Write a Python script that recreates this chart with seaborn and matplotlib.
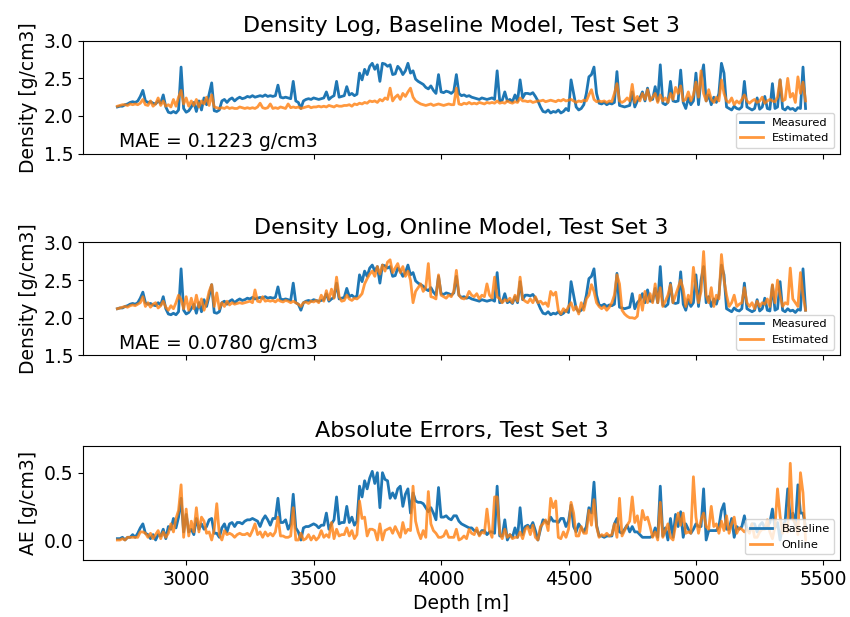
import numpy as np
import pandas as pd
import matplotlib
matplotlib.use("Agg")
import matplotlib.pyplot as plt
import seaborn as sns

# Depth sampling grid [m]
depth = np.arange(2730, 5431, 10)

# Measured density [g/cm3]
measured = [
    2.12, 2.13, 2.13, 2.15, 2.16, 2.18, 2.19, 2.18, 2.20, 2.26,
    2.34, 2.20, 2.18, 2.19, 2.17, 2.16, 2.20, 2.17, 2.28, 2.12,
    2.05, 2.04, 2.06, 2.04, 2.08, 2.65, 2.10, 2.05, 2.07, 2.12,
    2.18, 2.06, 2.20, 2.08, 2.24, 2.15, 2.29, 2.44, 2.07, 2.06,
    2.08, 2.20, 2.22, 2.18, 2.22, 2.24, 2.20, 2.23, 2.25, 2.23,
    2.24, 2.26, 2.25, 2.27, 2.25, 2.26, 2.27, 2.26, 2.28, 2.26,
    2.27, 2.26, 2.27, 2.41, 2.25, 2.24, 2.25, 2.24, 2.23, 2.46,
    2.20, 2.18, 2.10, 2.20, 2.22, 2.23, 2.22, 2.24, 2.23, 2.22,
    2.23, 2.24, 2.32, 2.22, 2.25, 2.27, 2.46, 2.25, 2.26, 2.27,
    2.39, 2.28, 2.30, 2.27, 2.29, 2.57, 2.48, 2.62, 2.55, 2.66,
    2.70, 2.62, 2.68, 2.46, 2.70, 2.69, 2.66, 2.68, 2.55, 2.56,
    2.66, 2.62, 2.55, 2.60, 2.70, 2.57, 2.60, 2.49, 2.46, 2.44,
    2.42, 2.38, 2.36, 2.40, 2.34, 2.30, 2.55, 2.32, 2.31, 2.33,
    2.32, 2.30, 2.33, 2.55, 2.30, 2.27, 2.28, 2.26, 2.27, 2.25,
    2.24, 2.23, 2.22, 2.24, 2.23, 2.22, 2.23, 2.24, 2.22, 2.60,
    2.20, 2.21, 2.32, 2.20, 2.22, 2.19, 2.28, 2.20, 2.48, 2.24,
    2.30, 2.30, 2.29, 2.31, 2.26, 2.20, 2.12, 2.06, 2.05, 2.08,
    2.04, 2.06, 2.05, 2.08, 2.04, 2.06, 2.10, 2.07, 2.48, 2.30,
    2.12, 2.08, 2.10, 2.15, 2.30, 2.52, 2.55, 2.65, 2.30, 2.17,
    2.16, 2.18, 2.15, 2.17, 2.16, 2.18, 2.59, 2.14, 2.13, 2.12,
    2.13, 2.14, 2.32, 2.12, 2.20, 2.24, 2.32, 2.20, 2.37, 2.22,
    2.22, 2.39, 2.20, 2.68, 2.17, 2.15, 2.18, 2.46, 2.20, 2.19,
    2.20, 2.61, 2.18, 2.10, 2.24, 2.15, 2.20, 2.57, 2.15, 2.50,
    2.68, 2.20, 2.28, 2.15, 2.25, 2.18, 2.30, 2.70, 2.57, 2.12,
    2.10, 2.08, 2.13, 2.10, 2.09, 2.12, 2.46, 2.12, 2.10, 2.08,
    2.10, 2.24, 2.09, 2.12, 2.26, 2.10, 2.09, 2.43, 2.10, 2.12,
    2.48, 2.10, 2.08, 2.12, 2.09, 2.10, 2.07, 2.11, 2.10, 2.65,
    2.10,
]

# Baseline model estimate [g/cm3]
baseline_est = [
    2.13, 2.14, 2.15, 2.15, 2.14, 2.16, 2.15, 2.16, 2.15, 2.17,
    2.22, 2.15, 2.14, 2.20, 2.13, 2.16, 2.24, 2.14, 2.20, 2.13,
    2.15, 2.12, 2.22, 2.13, 2.25, 2.34, 2.16, 2.24, 2.13, 2.20,
    2.14, 2.22, 2.12, 2.20, 2.16, 2.25, 2.14, 2.28, 2.12, 2.11,
    2.10, 2.11, 2.10, 2.12, 2.10, 2.11, 2.10, 2.10, 2.12, 2.11,
    2.10, 2.11, 2.10, 2.11, 2.10, 2.12, 2.17, 2.11, 2.10, 2.11,
    2.16, 2.10, 2.11, 2.10, 2.12, 2.11, 2.10, 2.16, 2.11, 2.12,
    2.11, 2.12, 2.10, 2.11, 2.12, 2.13, 2.11, 2.12, 2.12, 2.13,
    2.12, 2.13, 2.12, 2.14, 2.13, 2.12, 2.14, 2.13, 2.13, 2.14,
    2.14, 2.15, 2.13, 2.16, 2.15, 2.17, 2.16, 2.18, 2.17, 2.20,
    2.19, 2.20, 2.18, 2.22, 2.20, 2.24, 2.22, 2.37, 2.20, 2.25,
    2.28, 2.22, 2.30, 2.26, 2.32, 2.37, 2.25, 2.20, 2.18, 2.16,
    2.15, 2.14, 2.15, 2.16, 2.14, 2.15, 2.16, 2.15, 2.14, 2.15,
    2.16, 2.15, 2.15, 2.37, 2.16, 2.15, 2.17, 2.16, 2.18, 2.16,
    2.17, 2.16, 2.18, 2.17, 2.16, 2.18, 2.17, 2.18, 2.17, 2.20,
    2.17, 2.18, 2.17, 2.20, 2.18, 2.17, 2.19, 2.18, 2.24, 2.20,
    2.20, 2.19, 2.20, 2.18, 2.19, 2.20, 2.20, 2.21, 2.19, 2.20,
    2.21, 2.20, 2.19, 2.21, 2.20, 2.22, 2.20, 2.21, 2.22, 2.20,
    2.18, 2.20, 2.19, 2.21, 2.20, 2.28, 2.35, 2.22, 2.19, 2.20,
    2.19, 2.20, 2.18, 2.20, 2.19, 2.30, 2.43, 2.20, 2.18, 2.20,
    2.24, 2.20, 2.42, 2.18, 2.26, 2.20, 2.30, 2.22, 2.35, 2.20,
    2.25, 2.30, 2.18, 2.28, 2.20, 2.24, 2.18, 2.30, 2.22, 2.38,
    2.30, 2.40, 2.20, 2.22, 2.32, 2.20, 2.28, 2.45, 2.25, 2.60,
    2.30, 2.20, 2.35, 2.22, 2.18, 2.25, 2.20, 2.48, 2.30, 2.20,
    2.18, 2.24, 2.15, 2.20, 2.17, 2.22, 2.28, 2.20, 2.17, 2.20,
    2.22, 2.18, 2.20, 2.25, 2.17, 2.20, 2.22, 2.20, 2.19, 2.25,
    2.48, 2.20, 2.22, 2.50, 2.25, 2.30, 2.18, 2.52, 2.30, 2.45,
    2.20,
]

# Online model estimate [g/cm3]
online_est = [
    2.12, 2.13, 2.14, 2.15, 2.14, 2.16, 2.17, 2.16, 2.18, 2.20,
    2.28, 2.15, 2.20, 2.14, 2.18, 2.20, 2.13, 2.16, 2.22, 2.14,
    2.10, 2.16, 2.12, 2.20, 2.30, 2.24, 2.12, 2.28, 2.10, 2.26,
    2.12, 2.30, 2.14, 2.25, 2.10, 2.20, 2.35, 2.44, 2.15, 2.33,
    2.12, 2.20, 2.15, 2.22, 2.17, 2.20, 2.18, 2.19, 2.20, 2.19,
    2.20, 2.21, 2.22, 2.20, 2.37, 2.22, 2.21, 2.28, 2.22, 2.23,
    2.22, 2.23, 2.21, 2.24, 2.22, 2.21, 2.23, 2.22, 2.20, 2.22,
    2.20, 2.18, 2.15, 2.20, 2.21, 2.19, 2.22, 2.21, 2.23, 2.20,
    2.30, 2.22, 2.36, 2.24, 2.38, 2.26, 2.54, 2.28, 2.22, 2.23,
    2.30, 2.25, 2.23, 2.26, 2.25, 2.28, 2.32, 2.45, 2.52, 2.58,
    2.62, 2.55, 2.68, 2.58, 2.70, 2.62, 2.74, 2.77, 2.60, 2.66,
    2.72, 2.60, 2.68, 2.55, 2.62, 2.50, 2.20, 2.35, 2.40, 2.45,
    2.35, 2.40, 2.72, 2.28, 2.27, 2.25, 2.57, 2.30, 2.28, 2.26,
    2.30, 2.28, 2.35, 2.63, 2.30, 2.26, 2.25, 2.27, 2.35, 2.30,
    2.28, 2.32, 2.25, 2.30, 2.28, 2.45, 2.30, 2.26, 2.54, 2.28,
    2.25, 2.20, 2.24, 2.22, 2.26, 2.20, 2.30, 2.22, 2.54, 2.25,
    2.22, 2.20, 2.25, 2.20, 2.28, 2.20, 2.22, 2.18, 2.20, 2.15,
    2.35, 2.30, 2.34, 2.10, 2.05, 2.12, 2.08, 2.15, 2.20, 2.10,
    2.15, 2.05, 2.20, 2.10, 2.25, 2.30, 2.44, 2.35, 2.20, 2.15,
    2.12, 2.15, 2.10, 2.14, 2.20, 2.30, 2.57, 2.45, 2.10, 2.05,
    2.02, 2.00, 2.00, 1.99, 2.02, 2.30, 2.10, 2.35, 2.20, 2.32,
    2.20, 2.45, 2.20, 2.40, 2.15, 2.22, 2.30, 2.44, 2.20, 2.30,
    2.40, 2.50, 2.38, 2.15, 2.30, 2.20, 2.67, 2.40, 2.20, 2.35,
    2.88, 2.30, 2.20, 2.40, 2.15, 2.30, 2.25, 2.84, 2.50, 2.30,
    2.15, 2.20, 2.30, 2.15, 2.18, 2.20, 2.40, 2.20, 2.15, 2.20,
    2.12, 2.22, 2.15, 2.20, 2.18, 2.25, 2.15, 2.44, 2.20, 2.50,
    2.30, 2.15, 2.20, 2.18, 2.66, 2.25, 2.20, 2.15, 2.60, 2.30,
    2.10,
]

titles = ["Density Log, Baseline Model, Test Set 3",
          "Density Log, Online Model, Test Set 3",
          "Absolute Errors, Test Set 3"]
mae_labels = ["MAE = 0.1223 g/cm3", "MAE = 0.0780 g/cm3"]

df = pd.DataFrame({
    "depth": depth,
    "measured": measured,
    "baseline": baseline_est,
    "online": online_est,
})
df["ae_baseline"] = (df["measured"] - df["baseline"]).abs()
df["ae_online"] = (df["measured"] - df["online"]).abs()

BLUE = "#1f77b4"
ORANGE = "#ff7f0e"
TICK_FS = 13.5
LEG_FS = 8.2
LW = 2.0

plt.rcParams["font.family"] = ["DejaVu Sans"]

fig = plt.figure(figsize=(8.5, 6.17), dpi=100)
left, width = 0.0976, 0.8906
ax1 = fig.add_axes([left, 0.751, width, 0.183])
ax2 = fig.add_axes([left, 0.424, width, 0.183], sharex=ax1)
ax3 = fig.add_axes([left, 0.0925, width, 0.185], sharex=ax1)

panels = [(ax1, "baseline", mae_labels[0], titles[0]),
          (ax2, "online", mae_labels[1], titles[1])]
for ax, col, mae, title in panels:
    sns.lineplot(data=df, x="depth", y="measured", ax=ax, color=BLUE,
                 lw=LW, label="Measured")
    sns.lineplot(data=df, x="depth", y=col, ax=ax, color=ORANGE,
                 lw=LW, alpha=0.8, label="Estimated")
    ax.set_ylim(1.5, 3.0)
    ax.set_yticks([1.5, 2.0, 2.5, 3.0])
    ax.set_ylabel("Density [g/cm3]", fontsize=TICK_FS)
    ax.set_xlabel("")
    ax.set_title(title, fontsize=16)
    ax.text(0.048, 0.055, mae, transform=ax.transAxes, fontsize=TICK_FS)
    ax.legend(loc="lower right", fontsize=LEG_FS)
    ax.tick_params(labelbottom=False)

sns.lineplot(data=df, x="depth", y="ae_baseline", ax=ax3, color=BLUE,
             lw=LW, label="Baseline")
sns.lineplot(data=df, x="depth", y="ae_online", ax=ax3, color=ORANGE,
             lw=LW, alpha=0.8, label="Online")
ax3.set_ylim(-0.148, 0.70)
ax3.set_yticks([0.0, 0.5])
ax3.set_ylabel("AE [g/cm3]", fontsize=TICK_FS)
ax3.set_xlabel("Depth [m]", fontsize=TICK_FS)
ax3.set_title(titles[2], fontsize=16)
ax3.legend(loc="lower right", fontsize=LEG_FS)

ax1.set_xlim(2595, 5565)
ax1.set_xticks([3000, 3500, 4000, 4500, 5000, 5500])
for ax in (ax1, ax2, ax3):
    ax.tick_params(labelsize=TICK_FS)

fig.savefig("out.png", dpi=100)
